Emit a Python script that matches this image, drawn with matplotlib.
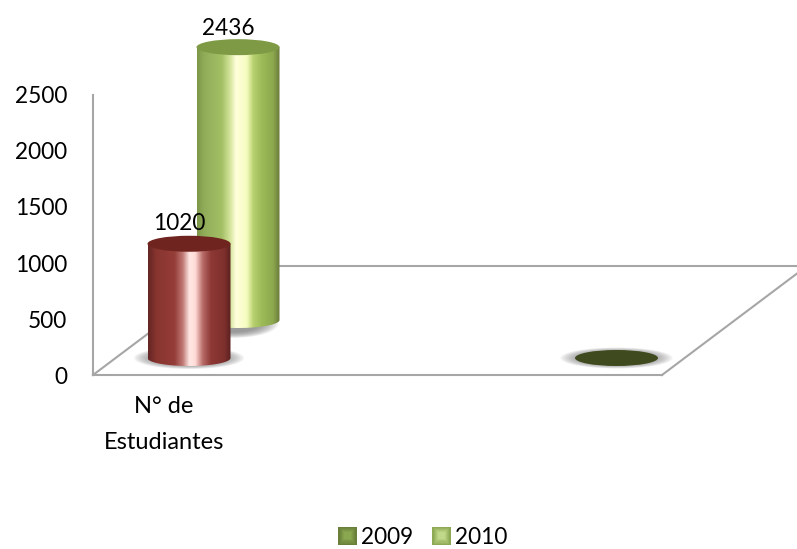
import numpy as np
import matplotlib
matplotlib.use('Agg')
import matplotlib.pyplot as plt
from matplotlib.colors import LinearSegmentedColormap, to_rgb
from matplotlib.legend_handler import HandlerBase
from matplotlib.lines import Line2D
from matplotlib.patches import Ellipse, PathPatch, Rectangle
from matplotlib.path import Path

categories = ['N° de\nEstudiantes', '']
series_names = ['2009', '2010']
values_2009 = [1020, 0]
values_2010 = [2436, None]
y_ticks = [0, 500, 1000, 1500, 2000, 2500]

W, H = 797, 549
# plot rectangle in pixels (front plane of the 3d box)
LEFT, RIGHT, TOP, BOTTOM = 93, 662, 95, 375
CAT_PX = 427.5
XPX = 1 / CAT_PX
YPX = 2500 / (BOTTOM - TOP)
FS = 17
FS_NUM = 16.3

plt.rcParams['font.family'] = ['Lato', 'DejaVu Sans']
plt.rcParams['font.size'] = FS

RED_STOPS = [(0, '#642624'), (0.1, '#88342f'), (0.32, '#953d39'), (0.42, '#c07a76'),
             (0.5, '#ffe8e4'), (0.57, '#ffdcd8'), (0.66, '#b86c68'), (0.76, '#8e3835'),
             (0.92, '#7e302d'), (1, '#5a2120')]
GREEN_STOPS = [(0, '#7c9648'), (0.08, '#90ac58'), (0.3, '#a4c066'), (0.4, '#d4e49c'),
               (0.47, '#ffffdc'), (0.6, '#f6fcc0'), (0.68, '#b8d070'), (0.78, '#9dbc58'),
               (0.92, '#8ca84e'), (1, '#68793a')]

styles = {
    '2009': dict(stops=RED_STOPS, top='#70241f', lift=17, dx=0, lab=10,
                 sh=(0, 0, 110, 22)),
    '2010': dict(stops=GREEN_STOPS, top='#7f9a45', lift=55, dx=49, lab=8,
                 sh=(-6, -4, 92, 28)),
}
ZERO_COLOR = '#3f4a1e'
BAR_W, ELL_H = 83, 16

fig = plt.figure(figsize=(W / 100, H / 100), dpi=100)
ax = fig.add_axes([LEFT / W, 1 - BOTTOM / H, (RIGHT - LEFT) / W, (BOTTOM - TOP) / H])
ax.set_xlim(-(189 - LEFT) * XPX, (RIGHT - 189) * XPX)
ax.set_ylim(0, 2500)
ax.set_facecolor('none')

for s in ['top', 'right']:
    ax.spines[s].set_visible(False)
for s in ['left', 'bottom']:
    ax.spines[s].set_color('#a6a6a6')
    ax.spines[s].set_linewidth(1.5)
    ax.spines[s].set_zorder(1)

ax.set_yticks(y_ticks)
ax.tick_params(axis='y', length=0, pad=18.5, labelsize=FS_NUM)
# category label sits left of the bar in the original
ax.set_xticks([(164 - 189) * XPX])
ax.set_xticklabels([categories[0]], linespacing=1.87)
ax.tick_params(axis='x', length=0, pad=15)

# floor edges, depth given as fraction of the axes
depth_x = 145 / (RIGHT - LEFT)
depth_y = 109 / (BOTTOM - TOP)
grey = dict(color='#a6a6a6', lw=1.5, transform=ax.transAxes, clip_on=False, zorder=1)
ax.add_line(Line2D([0, depth_x], [0, depth_y], **grey))
ax.add_line(Line2D([1, 1 + depth_x], [0, depth_y], **grey))
ax.add_line(Line2D([depth_x, 1 + depth_x], [depth_y, depth_y], **grey))


def shadow(xc, yc, w_px, h_px, z):
    for k in np.linspace(1, 0.6, 12):
        ax.add_patch(Ellipse((xc, yc), w_px * k * XPX, h_px * k * YPX, fc='#707070',
                             ec='none', alpha=0.09, clip_on=False, zorder=z))


def cylinder(xc, base, val, st, z):
    half = BAR_W / 2 * XPX
    eh = ELL_H / 2 * YPX
    top = base + val
    t = np.linspace(np.pi, 2 * np.pi, 60)
    xs = np.r_[xc - half, xc + half * np.cos(t), xc + half]
    ys = np.r_[top, base + eh * np.sin(t), top]
    clip = PathPatch(Path(np.c_[xs, ys]), transform=ax.transData, fc='none', ec='none')
    ax.add_patch(clip)
    cmap = LinearSegmentedColormap.from_list('c', st['stops'])
    im = ax.imshow(np.linspace(0, 1, 256)[None, :], cmap=cmap, aspect='auto',
                   extent=[xc - half, xc + half, base - eh, top], zorder=z, interpolation='bilinear')
    im.set_clip_path(clip)
    im.set_clip_box(fig.bbox)
    ax.add_patch(Ellipse((xc, top), BAR_W * XPX, ELL_H * YPX, fc=st['top'], ec='none',
                         clip_on=False, zorder=z + 0.1))


z = 2
for name, vals in reversed(list(zip(series_names, [values_2009, values_2010]))):
    st = styles[name]
    for i, v in enumerate(vals):
        if v is None:
            continue
        xc = i + st['dx'] * XPX
        base = st['lift'] * YPX
        if v == 0:
            shadow(xc, base, 112, 21, z)
            ax.add_patch(Ellipse((xc, base), BAR_W * XPX, ELL_H * YPX, fc=ZERO_COLOR, ec='none',
                                 zorder=z + 0.2))
            continue
        sx, sy, sw, sh = st['sh']
        shadow(xc + sx * XPX, base + sy * YPX, sw, sh, z)
        cylinder(xc, base, v, st, z + 0.2)
        ax.text(xc - 10 * XPX, base + v + st['lab'] * YPX, str(v), ha='center', va='bottom',
                color='black', fontsize=FS_NUM, clip_on=False, zorder=20)
    z += 1


class SquareHandler(HandlerBase):
    def create_artists(self, legend, orig, xd, yd, width, height, fontsize, trans):
        c0, c1 = np.array(to_rgb(orig.dark)), np.array(to_rgb(orig.light))
        out = []
        n = 6
        for k in range(n):
            f = k / (n - 1)
            m = f * height * 0.3
            out.append(Rectangle((-xd + m, -yd + m), height - 2 * m, height - 2 * m,
                                 fc=c0 * (1 - f) + c1 * f, ec='none', transform=trans))
        return out


h1 = Rectangle((0, 0), 1, 1)
h1.dark, h1.light = '#6a7f3a', '#8aa850'
h2 = Rectangle((0, 0), 1, 1)
h2.dark, h2.light = '#8faa55', '#c0d88a'
ax.legend([h1, h2], series_names, handler_map={Rectangle: SquareHandler()}, frameon=False,
          loc='center', bbox_to_anchor=(423 / W, 1 - 537 / H), bbox_transform=fig.transFigure,
          ncol=2, handlelength=0.75, handleheight=0.85, handletextpad=0.25, columnspacing=0.85,
          borderpad=0, borderaxespad=0, fontsize=FS_NUM)

fig.savefig('out.png', dpi=100)
